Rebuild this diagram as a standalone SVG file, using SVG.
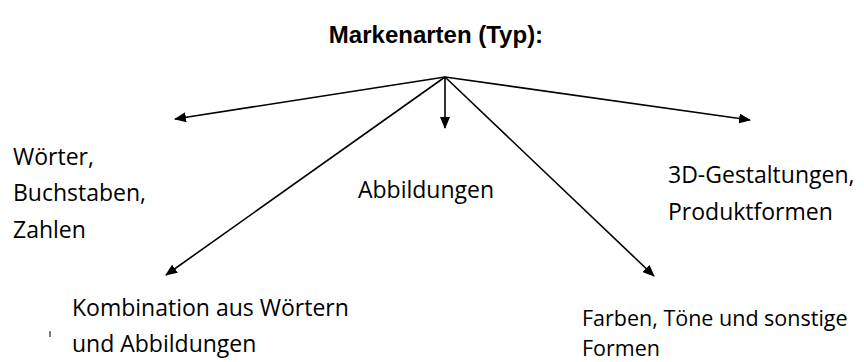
<svg xmlns="http://www.w3.org/2000/svg" width="864" height="362" viewBox="0 0 864 362">
<defs>
<marker id="ah" markerUnits="userSpaceOnUse" markerWidth="12" markerHeight="10" refX="11" refY="5" orient="auto">
<path d="M0,0 L12,5 L0,10 z" fill="#000"/>
</marker>
</defs>
<style>
.lbl{font-family:"Open Sans","Liberation Sans",sans-serif;font-size:23px;fill:#000}
.sm{font-size:21.5px}
.ttl{font-family:"Liberation Sans",Arial,sans-serif;font-size:24px;font-weight:bold;fill:#000}
.con{stroke:#000;stroke-width:1.6;fill:none;marker-end:url(#ah)}
</style>
<rect width="864" height="362" fill="#fff"/>
<text class="ttl" x="436" y="43" text-anchor="middle">Markenarten (Typ):</text>
<g id="connectors">
<line class="con" x1="445" y1="77" x2="175" y2="119"/>
<line class="con" x1="445" y1="77" x2="445" y2="128"/>
<line class="con" x1="445" y1="77" x2="750" y2="120"/>
<line class="con" x1="445" y1="77" x2="166" y2="275"/>
<line class="con" x1="445" y1="77" x2="654" y2="276"/>
</g>
<g id="woerter"><text class="lbl" x="13" y="165">Wörter,</text><text class="lbl" x="13" y="201">Buchstaben,</text><text class="lbl" x="13" y="238">Zahlen</text></g>
<g id="abbildungen"><text class="lbl" x="358" y="198">Abbildungen</text></g>
<g id="gestaltungen"><text class="lbl" x="668" y="183">3D-Gestaltungen,</text><text class="lbl" x="668" y="220">Produktformen</text></g>
<g id="kombination"><text class="lbl" x="72" y="316">Kombination aus Wörtern</text><text class="lbl" x="72" y="352">und Abbildungen</text></g>
<g id="farben"><text class="lbl sm" x="582" y="326">Farben, Töne und sonstige</text><text class="lbl sm" x="582" y="356">Formen</text></g>
<line x1="50" y1="331" x2="50" y2="337" stroke="#000" stroke-width="1"/>
</svg>
